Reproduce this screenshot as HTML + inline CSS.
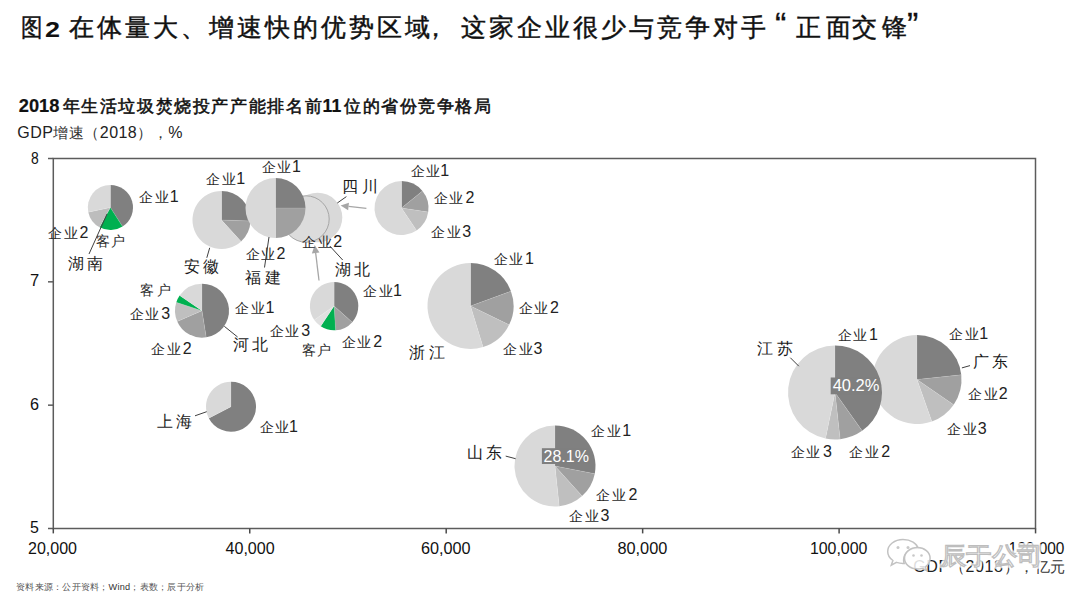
<!DOCTYPE html>
<html><head><meta charset="utf-8"><style>
html,body{margin:0;padding:0;background:#fff;width:1080px;height:604px;overflow:hidden}
svg{position:absolute;left:0;top:0}
text{font-family:"Liberation Sans",sans-serif;white-space:pre}
.ax{font-size:16px;fill:#111}
.pct{font-size:16.5px;fill:#fff}
.lc{font-size:13.5px;fill:#2a2a2a;font-weight:300}
.lc .n{font-size:16px;font-weight:400;fill:#222}
.lp{font-size:16px;fill:#1a1a1a;font-weight:300}
.t1{font-size:25px;fill:#111;stroke:#111;stroke-width:0.45px}
.t1 .q{font-size:34px;stroke-width:0.3px}
.t1.n{font-weight:700;font-size:26px;stroke:none}
.t2{font-size:17px;fill:#111;stroke:#111;stroke-width:0.55px}
.t2.n{font-size:18px;font-weight:700;stroke-width:0.2px}
.t3{font-size:14.5px;fill:#333;font-weight:300}
.t3 .n{font-size:16px;font-weight:400;fill:#222}
.src{font-size:9.2px;fill:#555;font-weight:300}
.src .n{fill:#333;font-weight:400}
.wm{font-size:24px;fill:#fff;fill-opacity:0.9;stroke:#bdbdbd;stroke-width:1.2px;font-weight:400}
</style></head><body>
<svg width="1080" height="604" viewBox="0 0 1080 604">
<circle cx="317.5" cy="217.5" r="24.8" fill="#d9d9d9"/>
<circle cx="306" cy="219" r="23.2" fill="#dcdcdc" stroke="#a6a6a6" stroke-width="1"/>
<path d="M110.40,207.50L110.40,184.90A22.6,22.6 0 0 1 122.54,226.56Z" fill="#808080"/>
<path d="M110.40,207.50L122.54,226.56A22.6,22.6 0 0 1 99.62,227.36Z" fill="#00b050"/>
<path d="M110.40,207.50L99.62,227.36A22.6,22.6 0 0 1 88.29,212.20Z" fill="#bdbdbd"/>
<path d="M110.40,207.50L88.29,212.20A22.6,22.6 0 0 1 110.40,184.90Z" fill="#d9d9d9"/>
<line x1="110.4" y1="207.5" x2="110.40" y2="184.90" stroke="#fff" stroke-opacity="0.18" stroke-width="0.7"/>
<line x1="110.4" y1="207.5" x2="122.54" y2="226.56" stroke="#fff" stroke-opacity="0.18" stroke-width="0.7"/>
<line x1="110.4" y1="207.5" x2="99.62" y2="227.36" stroke="#fff" stroke-opacity="0.18" stroke-width="0.7"/>
<line x1="110.4" y1="207.5" x2="88.29" y2="212.20" stroke="#fff" stroke-opacity="0.18" stroke-width="0.7"/>
<path d="M221.50,220.00L221.50,191.00A29,29 0 0 1 250.48,221.01Z" fill="#808080"/>
<path d="M221.50,220.00L250.48,221.01A29,29 0 0 1 241.09,241.38Z" fill="#a0a0a0"/>
<path d="M221.50,220.00L241.09,241.38A29,29 0 1 1 221.50,191.00Z" fill="#d9d9d9"/>
<line x1="221.5" y1="220" x2="221.50" y2="191.00" stroke="#fff" stroke-opacity="0.18" stroke-width="0.7"/>
<line x1="221.5" y1="220" x2="250.48" y2="221.01" stroke="#fff" stroke-opacity="0.18" stroke-width="0.7"/>
<line x1="221.5" y1="220" x2="241.09" y2="241.38" stroke="#fff" stroke-opacity="0.18" stroke-width="0.7"/>
<path d="M275.50,208.00L275.50,178.00A30,30 0 0 1 305.50,208.00Z" fill="#808080"/>
<path d="M275.50,208.00L305.50,208.00A30,30 0 0 1 275.50,238.00Z" fill="#a0a0a0"/>
<path d="M275.50,208.00L275.50,238.00A30,30 0 0 1 275.50,178.00Z" fill="#d9d9d9"/>
<line x1="275.5" y1="208" x2="275.50" y2="178.00" stroke="#fff" stroke-opacity="0.18" stroke-width="0.7"/>
<line x1="275.5" y1="208" x2="305.50" y2="208.00" stroke="#fff" stroke-opacity="0.18" stroke-width="0.7"/>
<line x1="275.5" y1="208" x2="275.50" y2="238.00" stroke="#fff" stroke-opacity="0.18" stroke-width="0.7"/>
<path d="M401.50,208.00L401.50,181.00A27,27 0 0 1 422.48,191.01Z" fill="#808080"/>
<path d="M401.50,208.00L422.48,191.01A27,27 0 0 1 428.20,211.99Z" fill="#a0a0a0"/>
<path d="M401.50,208.00L428.20,211.99A27,27 0 0 1 416.60,230.38Z" fill="#bfbfbf"/>
<path d="M401.50,208.00L416.60,230.38A27,27 0 1 1 401.50,181.00Z" fill="#d9d9d9"/>
<line x1="401.5" y1="208" x2="401.50" y2="181.00" stroke="#fff" stroke-opacity="0.18" stroke-width="0.7"/>
<line x1="401.5" y1="208" x2="422.48" y2="191.01" stroke="#fff" stroke-opacity="0.18" stroke-width="0.7"/>
<line x1="401.5" y1="208" x2="428.20" y2="211.99" stroke="#fff" stroke-opacity="0.18" stroke-width="0.7"/>
<line x1="401.5" y1="208" x2="416.60" y2="230.38" stroke="#fff" stroke-opacity="0.18" stroke-width="0.7"/>
<path d="M202.00,310.70L202.00,283.70A27,27 0 0 1 206.22,337.37Z" fill="#808080"/>
<path d="M202.00,310.70L206.22,337.37A27,27 0 0 1 177.24,321.47Z" fill="#a0a0a0"/>
<path d="M202.00,310.70L177.24,321.47A27,27 0 0 1 176.32,302.36Z" fill="#bfbfbf"/>
<path d="M202.00,310.70L176.32,302.36A27,27 0 0 1 179.62,295.60Z" fill="#00b050"/>
<path d="M202.00,310.70L179.62,295.60A27,27 0 0 1 202.00,283.70Z" fill="#d9d9d9"/>
<line x1="202" y1="310.7" x2="202.00" y2="283.70" stroke="#fff" stroke-opacity="0.18" stroke-width="0.7"/>
<line x1="202" y1="310.7" x2="206.22" y2="337.37" stroke="#fff" stroke-opacity="0.18" stroke-width="0.7"/>
<line x1="202" y1="310.7" x2="177.24" y2="321.47" stroke="#fff" stroke-opacity="0.18" stroke-width="0.7"/>
<line x1="202" y1="310.7" x2="176.32" y2="302.36" stroke="#fff" stroke-opacity="0.18" stroke-width="0.7"/>
<line x1="202" y1="310.7" x2="179.62" y2="295.60" stroke="#fff" stroke-opacity="0.18" stroke-width="0.7"/>
<path d="M334.10,306.10L334.10,281.90A24.2,24.2 0 0 1 352.22,322.14Z" fill="#808080"/>
<path d="M334.10,306.10L352.22,322.14A24.2,24.2 0 0 1 335.58,330.25Z" fill="#a0a0a0"/>
<path d="M334.10,306.10L335.58,330.25A24.2,24.2 0 0 1 320.71,326.26Z" fill="#00b050"/>
<path d="M334.10,306.10L320.71,326.26A24.2,24.2 0 0 1 314.28,319.98Z" fill="#e0e0e0"/>
<path d="M334.10,306.10L314.28,319.98A24.2,24.2 0 0 1 334.10,281.90Z" fill="#d9d9d9"/>
<line x1="334.1" y1="306.1" x2="334.10" y2="281.90" stroke="#fff" stroke-opacity="0.18" stroke-width="0.7"/>
<line x1="334.1" y1="306.1" x2="352.22" y2="322.14" stroke="#fff" stroke-opacity="0.18" stroke-width="0.7"/>
<line x1="334.1" y1="306.1" x2="335.58" y2="330.25" stroke="#fff" stroke-opacity="0.18" stroke-width="0.7"/>
<line x1="334.1" y1="306.1" x2="320.71" y2="326.26" stroke="#fff" stroke-opacity="0.18" stroke-width="0.7"/>
<line x1="334.1" y1="306.1" x2="314.28" y2="319.98" stroke="#fff" stroke-opacity="0.18" stroke-width="0.7"/>
<path d="M470.50,306.00L470.50,263.00A43,43 0 0 1 510.91,291.29Z" fill="#808080"/>
<path d="M470.50,306.00L510.91,291.29A43,43 0 0 1 509.15,324.85Z" fill="#a0a0a0"/>
<path d="M470.50,306.00L509.15,324.85A43,43 0 0 1 483.07,347.12Z" fill="#bfbfbf"/>
<path d="M470.50,306.00L483.07,347.12A43,43 0 1 1 470.50,263.00Z" fill="#d9d9d9"/>
<line x1="470.5" y1="306" x2="470.50" y2="263.00" stroke="#fff" stroke-opacity="0.18" stroke-width="0.7"/>
<line x1="470.5" y1="306" x2="510.91" y2="291.29" stroke="#fff" stroke-opacity="0.18" stroke-width="0.7"/>
<line x1="470.5" y1="306" x2="509.15" y2="324.85" stroke="#fff" stroke-opacity="0.18" stroke-width="0.7"/>
<line x1="470.5" y1="306" x2="483.07" y2="347.12" stroke="#fff" stroke-opacity="0.18" stroke-width="0.7"/>
<path d="M231.00,406.70L231.00,381.70A25,25 0 1 1 208.82,418.24Z" fill="#808080"/>
<path d="M231.00,406.70L208.82,418.24A25,25 0 0 1 231.00,381.70Z" fill="#d9d9d9"/>
<line x1="231" y1="406.7" x2="231.00" y2="381.70" stroke="#fff" stroke-opacity="0.18" stroke-width="0.7"/>
<line x1="231" y1="406.7" x2="208.82" y2="418.24" stroke="#fff" stroke-opacity="0.18" stroke-width="0.7"/>
<path d="M555.00,466.00L555.00,425.50A40.5,40.5 0 0 1 594.76,473.73Z" fill="#808080"/>
<path d="M555.00,466.00L594.76,473.73A40.5,40.5 0 0 1 582.10,496.10Z" fill="#a0a0a0"/>
<path d="M555.00,466.00L582.10,496.10A40.5,40.5 0 0 1 559.23,506.28Z" fill="#bfbfbf"/>
<path d="M555.00,466.00L559.23,506.28A40.5,40.5 0 1 1 555.00,425.50Z" fill="#d9d9d9"/>
<line x1="555" y1="466" x2="555.00" y2="425.50" stroke="#fff" stroke-opacity="0.18" stroke-width="0.7"/>
<line x1="555" y1="466" x2="594.76" y2="473.73" stroke="#fff" stroke-opacity="0.18" stroke-width="0.7"/>
<line x1="555" y1="466" x2="582.10" y2="496.10" stroke="#fff" stroke-opacity="0.18" stroke-width="0.7"/>
<line x1="555" y1="466" x2="559.23" y2="506.28" stroke="#fff" stroke-opacity="0.18" stroke-width="0.7"/>
<path d="M917.00,379.50L917.00,335.00A44.5,44.5 0 0 1 961.26,374.85Z" fill="#808080"/>
<path d="M917.00,379.50L961.26,374.85A44.5,44.5 0 0 1 953.67,404.71Z" fill="#a0a0a0"/>
<path d="M917.00,379.50L953.67,404.71A44.5,44.5 0 0 1 931.85,421.45Z" fill="#bfbfbf"/>
<path d="M917.00,379.50L931.85,421.45A44.5,44.5 0 1 1 917.00,335.00Z" fill="#d9d9d9"/>
<line x1="917" y1="379.5" x2="917.00" y2="335.00" stroke="#fff" stroke-opacity="0.18" stroke-width="0.7"/>
<line x1="917" y1="379.5" x2="961.26" y2="374.85" stroke="#fff" stroke-opacity="0.18" stroke-width="0.7"/>
<line x1="917" y1="379.5" x2="953.67" y2="404.71" stroke="#fff" stroke-opacity="0.18" stroke-width="0.7"/>
<line x1="917" y1="379.5" x2="931.85" y2="421.45" stroke="#fff" stroke-opacity="0.18" stroke-width="0.7"/>
<path d="M835.00,392.50L835.00,345.50A47,47 0 0 1 862.16,430.86Z" fill="#808080"/>
<path d="M835.00,392.50L862.16,430.86A47,47 0 0 1 840.16,439.22Z" fill="#a0a0a0"/>
<path d="M835.00,392.50L840.16,439.22A47,47 0 0 1 825.55,438.54Z" fill="#bfbfbf"/>
<path d="M835.00,392.50L825.55,438.54A47,47 0 0 1 835.00,345.50Z" fill="#d9d9d9"/>
<line x1="835" y1="392.5" x2="835.00" y2="345.50" stroke="#fff" stroke-opacity="0.18" stroke-width="0.7"/>
<line x1="835" y1="392.5" x2="862.16" y2="430.86" stroke="#fff" stroke-opacity="0.18" stroke-width="0.7"/>
<line x1="835" y1="392.5" x2="840.16" y2="439.22" stroke="#fff" stroke-opacity="0.18" stroke-width="0.7"/>
<line x1="835" y1="392.5" x2="825.55" y2="438.54" stroke="#fff" stroke-opacity="0.18" stroke-width="0.7"/>
<rect x="53.3" y="158.5" width="982.2" height="370.0" fill="none" stroke="#5c5c5c" stroke-width="1.5"/>
<line x1="48" y1="158.50" x2="53.3" y2="158.50" stroke="#5c5c5c" stroke-width="1.5"/>
<line x1="48" y1="281.83" x2="53.3" y2="281.83" stroke="#5c5c5c" stroke-width="1.5"/>
<line x1="48" y1="405.16" x2="53.3" y2="405.16" stroke="#5c5c5c" stroke-width="1.5"/>
<line x1="48" y1="528.49" x2="53.3" y2="528.49" stroke="#5c5c5c" stroke-width="1.5"/>
<line x1="53.30" y1="528.5" x2="53.30" y2="533.4" stroke="#4a4a4a" stroke-width="1.5"/>
<line x1="249.75" y1="528.5" x2="249.75" y2="533.4" stroke="#4a4a4a" stroke-width="1.5"/>
<line x1="446.20" y1="528.5" x2="446.20" y2="533.4" stroke="#4a4a4a" stroke-width="1.5"/>
<line x1="642.65" y1="528.5" x2="642.65" y2="533.4" stroke="#4a4a4a" stroke-width="1.5"/>
<line x1="839.10" y1="528.5" x2="839.10" y2="533.4" stroke="#4a4a4a" stroke-width="1.5"/>
<line x1="1035.55" y1="528.5" x2="1035.55" y2="533.4" stroke="#4a4a4a" stroke-width="1.5"/>
<line x1="89" y1="254" x2="107" y2="214" stroke="#404040" stroke-width="1"/>
<line x1="206.8" y1="257.8" x2="209.7" y2="247.8" stroke="#404040" stroke-width="1"/>
<line x1="264.5" y1="267.5" x2="269" y2="237" stroke="#404040" stroke-width="1"/>
<line x1="346.4" y1="196.6" x2="337.3" y2="203" stroke="#404040" stroke-width="1"/>
<line x1="342.7" y1="260" x2="329.8" y2="246" stroke="#404040" stroke-width="1"/>
<line x1="237.6" y1="337" x2="224.3" y2="326.3" stroke="#404040" stroke-width="1"/>
<line x1="195" y1="415.8" x2="206.7" y2="411.7" stroke="#404040" stroke-width="1"/>
<line x1="505.7" y1="456.1" x2="515.6" y2="458.7" stroke="#404040" stroke-width="1"/>
<line x1="790.3" y1="357.7" x2="798.8" y2="366.2" stroke="#404040" stroke-width="1"/>
<line x1="961.9" y1="367.9" x2="970" y2="365.6" stroke="#404040" stroke-width="1"/>
<line x1="366.4" y1="208.4" x2="348.55" y2="206.46" stroke="#a6a6a6" stroke-width="1.3"/><path d="M340.6,205.6L348.96,202.69L348.14,210.24Z" fill="#a6a6a6"/>
<line x1="319" y1="280.5" x2="315.66" y2="252.94" stroke="#a6a6a6" stroke-width="1.3"/><path d="M314.7,245L319.43,252.49L311.89,253.40Z" fill="#a6a6a6"/>
<rect x="541.9" y="448.2" width="47.3" height="15.8" fill="#7f7f7f"/>
<rect x="830.7" y="377.5" width="48" height="16.8" fill="#7f7f7f"/>
<text id="t0" class="lc" x="139.00 154.60" y="201.80">企业<tspan class="n" x="169.80">1</tspan></text>
<text id="t1" class="lc" x="48.00 63.60" y="238.00">企业<tspan class="n" x="79.40">2</tspan></text>
<text id="t2" class="lc" x="96.00" y="246.30" textLength="28.92" lengthAdjust="spacing">客户</text>
<text id="t3" class="lp" x="67.60" y="268.80" textLength="35.54" lengthAdjust="spacing">湖南</text>
<text id="t4" class="lc" x="206.30 221.90" y="184.20">企业<tspan class="n" x="236.20">1</tspan></text>
<text id="t5" class="lp" x="183.50" y="271.50" textLength="35.74" lengthAdjust="spacing">安徽</text>
<text id="t6" class="lc" x="261.70 277.30" y="172.30">企业<tspan class="n" x="292.10">1</tspan></text>
<text id="t7" class="lc" x="245.60 261.20" y="259.00">企业<tspan class="n" x="276.60">2</tspan></text>
<text id="t8" class="lp" x="244.80" y="282.70" textLength="35.87" lengthAdjust="spacing">福建</text>
<text id="t9" class="lp" x="341.80" y="192.30" textLength="35.81" lengthAdjust="spacing">四川</text>
<text id="t10" class="lc" x="301.90 317.50" y="247.20">企业<tspan class="n" x="333.20">2</tspan></text>
<text id="t11" class="lp" x="335.20" y="275.30" textLength="34.50" lengthAdjust="spacing">湖北</text>
<text id="t12" class="lc" x="410.60 426.20" y="176.20">企业<tspan class="n" x="440.20">1</tspan></text>
<text id="t13" class="lc" x="433.60 449.20" y="203.10">企业<tspan class="n" x="465.60">2</tspan></text>
<text id="t14" class="lc" x="431.00 446.60" y="236.50">企业<tspan class="n" x="462.30">3</tspan></text>
<text id="t15" class="lc" x="140.20" y="295.30" textLength="30.90" lengthAdjust="spacing">客户</text>
<text id="t16" class="lc" x="129.80 145.40" y="318.70">企业<tspan class="n" x="161.20">3</tspan></text>
<text id="t17" class="lc" x="151.30 166.90" y="353.50">企业<tspan class="n" x="182.80">2</tspan></text>
<text id="t18" class="lc" x="235.00 250.60" y="312.90">企业<tspan class="n" x="265.40">1</tspan></text>
<text id="t19" class="lp" x="232.60" y="350.00" textLength="35.05" lengthAdjust="spacing">河北</text>
<text id="t20" class="lc" x="363.30 378.90" y="296.30">企业<tspan class="n" x="393.00">1</tspan></text>
<text id="t21" class="lc" x="269.80 285.40" y="336.10">企业<tspan class="n" x="301.20">3</tspan></text>
<text id="t22" class="lc" x="301.70" y="355.00" textLength="29.29" lengthAdjust="spacing">客户</text>
<text id="t23" class="lc" x="341.80 357.40" y="346.80">企业<tspan class="n" x="373.30">2</tspan></text>
<text id="t24" class="lc" x="493.70 509.30" y="263.80">企业<tspan class="n" x="524.90">1</tspan></text>
<text id="t25" class="lc" x="518.50 534.10" y="313.30">企业<tspan class="n" x="549.90">2</tspan></text>
<text id="t26" class="lc" x="503.40 519.00" y="354.20">企业<tspan class="n" x="533.60">3</tspan></text>
<text id="t27" class="lp" x="409.00" y="357.50" textLength="36.16" lengthAdjust="spacing">浙江</text>
<text id="t28" class="lp" x="156.70" y="427.20" textLength="35.22" lengthAdjust="spacing">上海</text>
<text id="t29" class="lc" x="259.80 275.40" y="431.50">企业<tspan class="n" x="288.90">1</tspan></text>
<text id="t30" class="lc" x="591.20 606.80" y="435.80">企业<tspan class="n" x="622.30">1</tspan></text>
<text id="t31" class="lc" x="596.10 611.70" y="500.40">企业<tspan class="n" x="628.50">2</tspan></text>
<text id="t32" class="lc" x="569.30 584.90" y="521.30">企业<tspan class="n" x="600.50">3</tspan></text>
<text id="t33" class="lp" x="467.00" y="457.70" textLength="34.88" lengthAdjust="spacing">山东</text>
<text id="t34" class="lc" x="837.50 853.10" y="340.30">企业<tspan class="n" x="869.10">1</tspan></text>
<text id="t35" class="lp" x="757.20" y="354.40" textLength="35.71" lengthAdjust="spacing">江苏</text>
<text id="t36" class="lc" x="790.70 806.30" y="457.30">企业<tspan class="n" x="822.90">3</tspan></text>
<text id="t37" class="lc" x="849.00 864.60" y="457.30">企业<tspan class="n" x="881.30">2</tspan></text>
<text id="t38" class="lc" x="948.90 964.50" y="339.10">企业<tspan class="n" x="979.30">1</tspan></text>
<text id="t39" class="lp" x="972.50" y="366.90" textLength="35.28" lengthAdjust="spacing">广东</text>
<text id="t40" class="lc" x="967.90 983.50" y="399.30">企业<tspan class="n" x="998.70">2</tspan></text>
<text id="t41" class="lc" x="947.00 962.60" y="434.10">企业<tspan class="n" x="977.70">3</tspan></text>
<text id="t42" class="pct" x="543.50" y="462.00" textLength="45.38" lengthAdjust="spacingAndGlyphs">28.1%</text>
<text id="t43" class="pct" x="832.70" y="391.20" textLength="46.77" lengthAdjust="spacingAndGlyphs">40.2%</text>
<text id="t44" class="ax" x="31.10" y="163.50" textLength="7.73" lengthAdjust="spacingAndGlyphs">8</text>
<text id="t45" class="ax" x="30.10" y="286.43" textLength="9.20" lengthAdjust="spacingAndGlyphs">7</text>
<text id="t46" class="ax" x="30.10" y="410.36" textLength="9.01" lengthAdjust="spacingAndGlyphs">6</text>
<text id="t47" class="ax" x="30.10" y="533.00" textLength="8.85" lengthAdjust="spacingAndGlyphs">5</text>
<text id="t48" class="ax" x="28.00" y="553.50" textLength="49.02" lengthAdjust="spacingAndGlyphs">20,000</text>
<text id="t49" class="ax" x="225.50" y="553.50" textLength="49.20" lengthAdjust="spacingAndGlyphs">40,000</text>
<text id="t50" class="ax" x="420.90" y="553.50" textLength="49.63" lengthAdjust="spacingAndGlyphs">60,000</text>
<text id="t51" class="ax" x="617.40" y="553.50" textLength="49.93" lengthAdjust="spacingAndGlyphs">80,000</text>
<text id="t52" class="ax" x="809.90" y="553.50" textLength="57.49" lengthAdjust="spacingAndGlyphs">100,000</text>
<text id="t53" class="ax" x="1008.60" y="553.50" textLength="55.79" lengthAdjust="spacingAndGlyphs">120,000</text>
<text id="t54" class="t3" x="17.30" y="138.10" textLength="165.09" lengthAdjust="spacing"><tspan class="n">GDP</tspan>增速（<tspan class="n">2018</tspan>），<tspan class="n">%</tspan></text>
<text id="t55" class="t3" x="913.30" y="572.30" textLength="152.09" lengthAdjust="spacing"><tspan class="n">GDP</tspan>（<tspan class="n">2018</tspan>），亿元</text>
<text id="t56" class="src" x="16.10" y="590.20" textLength="188.01" lengthAdjust="spacing">资料来源：公开资料；<tspan class="n">Wind</tspan>；表数；辰于分析</text>
<text class="t1" x="69.0 97.0 125.0 153.0 181.0 209.0 237.0 265.0 293.0 321.0 349.0 377.0 405.0 422.5 461.0 489.0 517.0 545.0 573.0 601.0 629.0 657.0 685.0 713.0 741.0 775.0 795.7 825.7 852.3 881.5 907.0" y="36.0">在体量大、增速快的优势区域，这家企业很少与竞争对手<tspan class="q">“</tspan>正面交锋<tspan class="q">”</tspan></text><text class="t1 n" transform="translate(45.0,36.9) scale(1.2,1)" x="0" y="0" style="font-size:22.5px">2</text><text class="t1" transform="translate(21.2,36.0) scale(0.86,1)" x="0" y="0">图</text>
<text class="t2" x="62.50 81.12 99.74 118.36 136.98 155.60 174.22 192.84 211.46 230.08 248.70 267.32 285.94 304.56" y="112.2">年生活垃圾焚烧投产产能排名前</text><text class="t2" x="344.10 362.65 381.20 399.75 418.30 436.85 455.40 473.95" y="112.2">位的省份竞争格局</text><text class="t2 n" x="18.8" y="112.2" textLength="40.6" lengthAdjust="spacingAndGlyphs">2018</text><text class="t2 n" x="322.6" y="112.2" textLength="18.6" lengthAdjust="spacingAndGlyphs">11</text>
<g>
<g fill="#fff" fill-opacity="0.85" stroke="#c2c2c2" stroke-width="1.5">
<path d="M903,539.5 c-8.5,0 -15.3,5.4 -15.3,12 c0,3.6 2,6.8 5.2,9 l-1.6,4.6 l5.2,-2.7 c2,0.6 4.2,1 6.5,1 c0.3,0 0.8,0 1.2,0 c-0.4,-1.1 -0.6,-2.3 -0.6,-3.5 c0,-6.3 6,-11.3 13.5,-11.3 c0.4,0 0.8,0 1.2,0 c-1.4,-5.2 -7.4,-9.1 -15.3,-9.1z"/>
<path d="M917.5,547.5 c-7.2,0 -13,4.8 -13,10.8 c0,6 5.8,10.8 13,10.8 c1.6,0 3.2,-0.3 4.7,-0.7 l4.3,2.2 l-1.1,-3.7 c2.9,-2 4.7,-5 4.7,-8.6 c0,-6 -5.8,-10.8 -12.6,-10.8z"/>
</g>
<g fill="#c8c8c8"><circle cx="898" cy="547.5" r="1.5"/><circle cx="908" cy="547.5" r="1.5"/><circle cx="913.5" cy="555.5" r="1.3"/><circle cx="921.5" cy="555.5" r="1.3"/></g>
<text class="wm" x="940.5" y="563.5" textLength="102" lengthAdjust="spacingAndGlyphs" style="stroke:#fff;stroke-width:5px;stroke-opacity:0.75;stroke-linejoin:round">辰于公司</text>
<text class="wm" x="940.5" y="563.5" textLength="102" lengthAdjust="spacingAndGlyphs">辰于公司</text>
</g>
</svg>
</body></html>
